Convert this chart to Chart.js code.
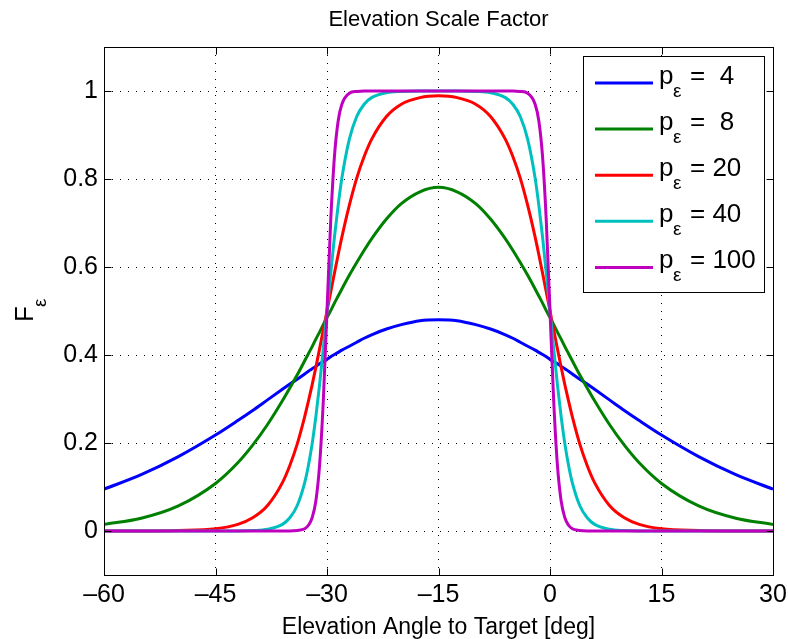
<!DOCTYPE html>
<html>
<head>
<meta charset="utf-8">
<script src="https://cdn.jsdelivr.net/npm/chart.js@4.4.1/dist/chart.umd.min.js"></script>
<style>
  html, body { margin: 0; padding: 0; background: #fff; }
  #wrap { width: 788px; height: 639px; }
</style>
</head>
<body>
<div id="wrap"><canvas id="grafica" width="788" height="639"></canvas></div>
<script>
// Angulos de elevacion (eje x, grados)
const angulos = [-60, -55, -50, -45, -42, -40, -38, -36, -35, -34, -33, -32.5, -32, -31.5, -31, -30.5,
  -30, -29.5, -29, -28.5, -28, -27, -26, -25, -24, -22, -20, -17.5, -15, -12.5, -10, -8, -6, -5, -4,
  -3, -2, -1.5, -1, -0.5, 0, 0.5, 1, 1.5, 2, 2.5, 3, 4, 5, 6, 8, 10, 12, 15, 20, 25, 30];

// Factor de escala, una serie por cada p
const serieP4 = [0.095, 0.128, 0.169, 0.218, 0.251, 0.274, 0.298, 0.322, 0.334, 0.345, 0.357, 0.363, 0.369, 0.374, 0.380, 0.385,
  0.390, 0.396, 0.401, 0.406, 0.411, 0.420, 0.429, 0.438, 0.446, 0.459, 0.469, 0.478, 0.480, 0.478, 0.469, 0.459, 0.446, 0.438, 0.429,
  0.420, 0.411, 0.406, 0.401, 0.396, 0.390, 0.385, 0.380, 0.374, 0.369, 0.363, 0.357, 0.345, 0.334, 0.322, 0.298, 0.274, 0.251, 0.218, 0.169, 0.128, 0.095];
const serieP8 = [0.015, 0.029, 0.057, 0.108, 0.155, 0.195, 0.242, 0.296, 0.325, 0.355, 0.387, 0.403, 0.419, 0.436, 0.452, 0.469,
  0.485, 0.501, 0.518, 0.534, 0.550, 0.581, 0.610, 0.638, 0.664, 0.709, 0.744, 0.771, 0.781, 0.771, 0.744, 0.709, 0.664, 0.638, 0.610,
  0.581, 0.550, 0.534, 0.518, 0.501, 0.485, 0.469, 0.452, 0.436, 0.419, 0.403, 0.387, 0.355, 0.325, 0.296, 0.242, 0.195, 0.155, 0.108, 0.057, 0.029, 0.015];
const serieP20 = [0.000, 0.000, 0.001, 0.005, 0.015, 0.030, 0.058, 0.110, 0.149, 0.198, 0.260, 0.295, 0.332, 0.372, 0.414, 0.457,
  0.500, 0.543, 0.586, 0.628, 0.668, 0.740, 0.802, 0.851, 0.890, 0.942, 0.970, 0.985, 0.989, 0.985, 0.970, 0.942, 0.890, 0.851, 0.802,
  0.740, 0.668, 0.628, 0.586, 0.543, 0.500, 0.457, 0.414, 0.372, 0.332, 0.295, 0.260, 0.198, 0.149, 0.110, 0.058, 0.030, 0.015, 0.005, 0.001, 0.000, 0.000];
const serieP40 = [0, 0, 0, 0, 0, 0.001, 0.004, 0.015, 0.030, 0.058, 0.110, 0.149, 0.198, 0.260, 0.332, 0.414,
  0.500, 0.586, 0.668, 0.740, 0.802, 0.890, 0.942, 0.970, 0.985, 0.996, 0.999, 1.000, 1.000, 1.000, 0.999, 0.996, 0.985, 0.970, 0.942,
  0.890, 0.802, 0.740, 0.668, 0.586, 0.500, 0.414, 0.332, 0.260, 0.198, 0.149, 0.110, 0.058, 0.030, 0.015, 0.004, 0.001, 0, 0, 0, 0, 0];
const serieP100 = [0, 0, 0, 0, 0, 0, 0, 0, 0, 0.001, 0.005, 0.013, 0.030, 0.068, 0.149, 0.295,
  0.500, 0.705, 0.851, 0.932, 0.970, 0.995, 0.999, 1, 1, 1, 1, 1, 1, 1, 1, 1, 1, 1, 0.999,
  0.995, 0.970, 0.932, 0.851, 0.705, 0.500, 0.295, 0.149, 0.068, 0.030, 0.013, 0.005, 0.001, 0, 0, 0, 0, 0, 0, 0, 0, 0];

const valoresP = [4, 8, 20, 40, 100];
const series = [serieP4, serieP8, serieP20, serieP40, serieP100];
const colores = ['#0000ff', '#008000', '#ff0000', '#00bfbf', '#bf00bf'];

const xTicks = [-60, -45, -30, -15, 0, 15, 30];
const xTickLabels = ['\u201360', '\u201345', '\u201330', '\u201315', '0', '15', '30'];
const yTicks = [0, 0.2, 0.4, 0.6, 0.8, 1];
const yTickLabels = ['0', '0.2', '0.4', '0.6', '0.8', '1'];

const fuente = "'Liberation Sans', Arial, Helvetica, sans-serif";

// Marco, marcas interiores, leyenda y textos al estilo MATLAB
const marcoPlugin = {
  id: 'marco',
  afterDraw(chart) {
    const { ctx, chartArea: a, scales } = chart;
    const L = Math.round(a.left) + 0.5, R = Math.round(a.right) + 0.5;
    const T = Math.round(a.top) + 0.5, B = Math.round(a.bottom) + 0.5;
    ctx.save();

    // leyenda
    const lx = 583.5, ly = 56.5, lw = 181, lh = 236;
    ctx.fillStyle = '#fff';
    ctx.fillRect(lx, ly, lw, lh);
    ctx.strokeStyle = '#000';
    ctx.lineWidth = 1;
    ctx.strokeRect(lx, ly, lw, lh);
    valoresP.forEach((p, i) => {
      const yy = 83 + i * 46.1;
      ctx.strokeStyle = colores[i];
      ctx.lineWidth = 3;
      ctx.beginPath();
      ctx.moveTo(595, yy);
      ctx.lineTo(653, yy);
      ctx.stroke();
      ctx.fillStyle = '#000';
      ctx.textAlign = 'left';
      ctx.textBaseline = 'alphabetic';
      ctx.font = '26px ' + fuente;
      ctx.fillText('p', 659, yy + 1);
      ctx.fillText('= ' + String(p).padStart(2, ' '), 690, yy + 1);
      ctx.font = '19px ' + fuente;
      ctx.fillText('\u03b5', 673, yy + 14);
    });

    // marco
    ctx.strokeStyle = '#000';
    ctx.lineWidth = 1;
    ctx.strokeRect(L, T, R - L, B - T);
    ctx.beginPath();
    xTicks.forEach(v => {
      const px = Math.round(scales.x.getPixelForValue(v)) + 0.5;
      ctx.moveTo(px, B); ctx.lineTo(px, B - 7);
      ctx.moveTo(px, T); ctx.lineTo(px, T + 7);
    });
    yTicks.forEach(v => {
      const py = Math.round(scales.y.getPixelForValue(v)) + 0.5;
      ctx.moveTo(L, py); ctx.lineTo(L + 7, py);
      ctx.moveTo(R, py); ctx.lineTo(R - 7, py);
    });
    ctx.stroke();

    // titulo y etiqueta x
    const cx = (a.left + a.right) / 2;
    ctx.fillStyle = '#000';
    ctx.textAlign = 'center';
    ctx.textBaseline = 'alphabetic';
    ctx.font = '22px ' + fuente;
    ctx.fillText('Elevation Scale Factor', cx, 26);
    ctx.font = '23px ' + fuente;
    ctx.fillText('Elevation Angle to Target [deg]', cx, 634);

    // etiqueta y con subindice
    ctx.translate(33, 322);
    ctx.rotate(-Math.PI / 2);
    ctx.textAlign = 'left';
    ctx.font = '26px ' + fuente;
    ctx.fillText('F', 0, 0);
    ctx.font = '19px ' + fuente;
    ctx.fillText('\u03b5', 15, 13);
    ctx.restore();
  }
};

const ctx = document.getElementById('grafica').getContext('2d');

new Chart(ctx, {
  type: 'line',
  data: {
    datasets: series.map((serie, i) => ({
      label: 'p = ' + valoresP[i],
      data: angulos.map((a, j) => ({ x: a, y: serie[j] })),
      borderColor: colores[i],
      backgroundColor: colores[i],
      borderWidth: 3,
      pointRadius: 0,
      fill: false,
      cubicInterpolationMode: 'monotone',
      order: series.length - i
    }))
  },
  options: {
    responsive: false,
    animation: false,
    events: [],
    layout: { padding: { left: 0, right: 15, top: 47, bottom: 0 } },
    plugins: {
      legend: { display: false },
      title: { display: false },
      tooltip: { enabled: false }
    },
    scales: {
      x: {
        type: 'linear',
        min: -60,
        max: 30,
        afterBuildTicks: scale => { scale.ticks = xTicks.map(v => ({ value: v })); },
        afterFit: scale => { scale.height = 64; scale.paddingLeft = 0; scale.paddingRight = 0; },
        grid: { color: '#000', lineWidth: 1, drawTicks: false },
        border: { display: false, dash: [1, 7] },
        ticks: {
          padding: 5,
          maxRotation: 0,
          color: '#000',
          font: { family: fuente, size: 25 },
          callback: v => xTickLabels[xTicks.indexOf(v)]
        }
      },
      y: {
        type: 'linear',
        min: -0.1,
        max: 1.1,
        afterBuildTicks: scale => { scale.ticks = yTicks.map(v => ({ value: v })); },
        afterFit: scale => { scale.width = 104; scale.paddingTop = 0; scale.paddingBottom = 0; },
        grid: { color: '#000', lineWidth: 1, drawTicks: false },
        border: { display: false, dash: [1, 7] },
        ticks: {
          padding: 6,
          color: '#000',
          font: { family: fuente, size: 25 },
          callback: v => yTickLabels[yTicks.indexOf(v)]
        }
      }
    }
  },
  plugins: [marcoPlugin]
});
</script>
</body>
</html>
